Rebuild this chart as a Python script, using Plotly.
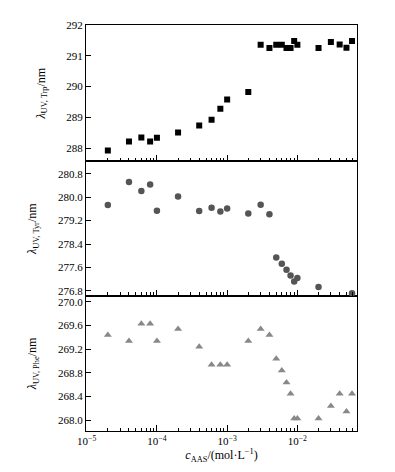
import plotly.graph_objects as go

# ---- data ----
c_trp = [2e-5, 4e-5, 6e-5, 8e-5, 1e-4, 2e-4, 4e-4, 6e-4, 8e-4, 1e-3, 2e-3, 3e-3,
         4e-3, 5e-3, 6e-3, 7e-3, 8e-3, 9e-3, 1e-2, 2e-2, 3e-2, 4e-2, 5e-2, 6e-2]
lam_trp = [287.92, 288.22, 288.35, 288.22, 288.34, 288.51, 288.74, 288.92, 289.28, 289.58,
           289.82, 291.36, 291.25, 291.36, 291.36, 291.25, 291.25, 291.48, 291.36, 291.25,
           291.45, 291.37, 291.26, 291.48]

c_tyr = [2e-5, 4e-5, 6e-5, 8e-5, 1e-4, 2e-4, 4e-4, 6e-4, 8e-4, 1e-3, 2e-3, 3e-3,
         4e-3, 5e-3, 6e-3, 7e-3, 8e-3, 9e-3, 1e-2, 2e-2, 6e-2]
lam_tyr = [279.73, 280.52, 280.21, 280.43, 279.54, 280.02, 279.53, 279.64, 279.51, 279.61,
           279.44, 279.74, 279.42, 277.94, 277.73, 277.52, 277.33, 277.12, 277.24, 276.93,
           276.72]

c_phe = [2e-5, 4e-5, 6e-5, 8e-5, 1e-4, 2e-4, 4e-4, 6e-4, 8e-4, 1e-3, 2e-3, 3e-3,
         4e-3, 5e-3, 6e-3, 7e-3, 8e-3, 9e-3, 1e-2, 2e-2, 3e-2, 4e-2, 5e-2, 6e-2]
lam_phe = [269.44, 269.34, 269.63, 269.63, 269.34, 269.54, 269.24, 268.94, 268.94, 268.94,
           269.34, 269.54, 269.44, 269.04, 268.84, 268.64, 268.45, 268.03, 268.03, 268.03,
           268.24, 268.45, 268.15, 268.45]

x_major = [1e-5, 1e-4, 1e-3, 1e-2]
x_major_text = ["10<sup>\u22125</sup>", "10<sup>\u22124</sup>", "10<sup>\u22123</sup>", "10<sup>\u22122</sup>"]
y_trp_ticks = [288, 289, 290, 291, 292]
y_tyr_ticks = [276.8, 277.6, 278.4, 279.2, 280.0, 280.8]
y_phe_ticks = [268.0, 268.4, 268.8, 269.2, 269.6, 270.0]

FONT = "Liberation Serif"
x_minor = [m * d for d in [1e-5, 1e-4, 1e-3, 1e-2] for m in range(2, 10)]

fig = go.Figure()
fig.add_trace(go.Scatter(x=c_trp, y=lam_trp, mode="markers", xaxis="x3", yaxis="y3",
                         marker=dict(symbol="square", size=6, color="black"), showlegend=False))
fig.add_trace(go.Scatter(x=c_tyr, y=lam_tyr, mode="markers", xaxis="x2", yaxis="y2",
                         marker=dict(symbol="circle", size=6.5, color="#555555"), showlegend=False))
fig.add_trace(go.Scatter(x=c_phe, y=lam_phe, mode="markers", xaxis="x", yaxis="y",
                         marker=dict(symbol="triangle-up", size=7, color="#888888"), showlegend=False))

xrange = [-5.01, -1.151]
def xax(show_labels, anchor):
    return dict(type="log", range=xrange, anchor=anchor,
                showline=True, mirror=True, linecolor="black", linewidth=1,
                showgrid=False, zeroline=False,
                ticks="inside", ticklen=6, tickcolor="black", tickwidth=1,
                tickvals=x_major, ticktext=x_major_text, showticklabels=show_labels,
                minor=dict(tickvals=x_minor, ticks="inside", ticklen=3.5, tickcolor="black", tickwidth=1),
                tickfont=dict(family=FONT, size=11, color="black"))

def yax(rng, ticks, fmt, title, domain, anchor):
    return dict(range=rng, domain=domain, anchor=anchor,
                showline=True, mirror=True, linecolor="black", linewidth=1,
                showgrid=False, zeroline=False,
                ticks="inside", ticklen=5, tickcolor="black", tickwidth=1,
                tickvals=ticks, tickformat=fmt,
                tickfont=dict(family=FONT, size=11, color="black"),
                title=dict(text=title, font=dict(family=FONT, size=12, color="black"), standoff=18))

H = 405.7
d1 = 135.0 / H
d2 = (135.0 + 134.4) / H

fig.update_layout(
    width=395, height=472,
    margin=dict(l=78, r=46, t=17, b=49),
    paper_bgcolor="white", plot_bgcolor="white",
    font=dict(family=FONT, color="black"),
    xaxis=dict(**xax(True, "y"),
               title=dict(text="<i>c</i><sub>AAS</sub>/(mol\u00b7L<sup>\u22121</sup>)",
                          font=dict(family=FONT, size=12, color="black"), standoff=4)),
    xaxis2=xax(False, "y2"),
    xaxis3=xax(False, "y3"),
    yaxis=yax([267.82, 270.1], y_phe_ticks, ".1f",
              "<i>\u03bb</i><sub>UV, Phe</sub>/nm", [0, d1], "x"),
    yaxis2=yax([276.63, 281.22], y_tyr_ticks, ".1f",
               "<i>\u03bb</i><sub>UV, Tyr</sub>/nm", [d1, d2], "x2"),
    yaxis3=yax([287.57, 292.0], y_trp_ticks, "d",
               "<i>\u03bb</i><sub>UV, Trp</sub>/nm", [d2, 1], "x3"),
)

fig.write_html("out.html")
